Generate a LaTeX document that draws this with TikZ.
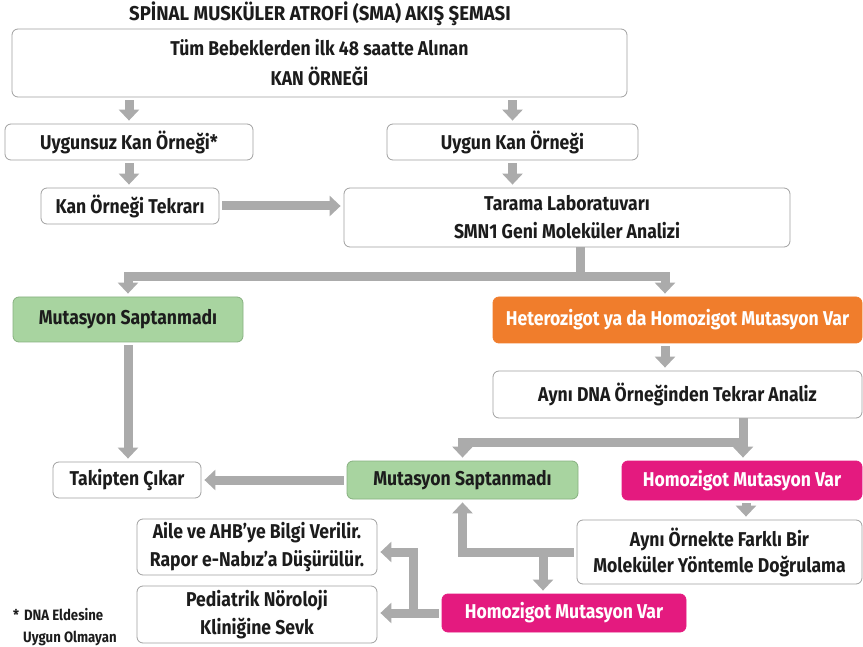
\documentclass[tikz,border=0pt]{standalone}
\usepackage{fontspec}
\setmainfont{Fira Sans}[FakeStretch=0.88]
\newfontfamily\titlefont{Fira Sans}[FakeStretch=0.93]
\usetikzlibrary{arrows.meta,calc}
\definecolor{arrgray}{HTML}{ABABAB}
\definecolor{framegray}{HTML}{A0A0A0}
\definecolor{okgreen}{HTML}{A8D4A0}
\definecolor{okgreenframe}{HTML}{86B07F}
\definecolor{warnorange}{HTML}{F07D2C}
\definecolor{hotpink}{HTML}{E41A7F}
\definecolor{inkblack}{HTML}{1C1C1C}
\tikzset{
  box/.style={draw=framegray, line width=0.8pt, rounded corners=6pt, fill=white,
    inner sep=0pt, align=center, text=inkblack,
    font=\fontsize{20}{28}\selectfont\bfseries},
  greenbox/.style={box, fill=okgreen, draw=okgreenframe},
  orangebox/.style={box, fill=warnorange, draw=warnorange, text=white},
  pinkbox/.style={box, fill=hotpink, draw=hotpink, text=white},
  arr/.style={draw=arrgray, line width=9pt,
    -{Triangle[width=20pt,length=11pt]}, shorten >=3pt, shorten <=3pt},
  branch/.style={arr, shorten <=0pt},
}
\begin{document}
\begin{tikzpicture}[x=1pt,y=-1pt]
\useasboundingbox (0,0) rectangle (863,647);

% title
\node[text=inkblack, font=\fontsize{20}{22}\titlefont\bfseries] (title) at (320,14)
  {SPİNAL MUSKÜLER ATROFİ (SMA) AKIŞ ŞEMASI};

% boxes
\node[box, font=\fontsize{20}{30}\selectfont\bfseries,
  minimum width=615pt, minimum height=68pt] (sample) at (319.5,63)
  {Tüm Bebeklerden ilk 48 saatte Alınan\\KAN ÖRNEĞİ};
\node[box, minimum width=248pt, minimum height=36pt] (bad) at (129,142) {Uygunsuz Kan Örneği*};
\node[box, minimum width=251pt, minimum height=36pt] (good) at (512.5,142) {Uygun Kan Örneği};
\node[box, minimum width=178pt, minimum height=36pt] (repeat) at (130,206) {Kan Örneği Tekrarı};
\node[box, minimum width=446pt, minimum height=59pt] (lab) at (567,217.5)
  {Tarama Laboratuvarı\\SMN1 Geni Moleküler Analizi};
\node[greenbox, minimum width=230pt, minimum height=45pt] (neg1) at (128,319.5) {Mutasyon Saptanmadı};
\node[orangebox, minimum width=369pt, minimum height=46pt] (pos) at (677.5,320)
  {Heterozigot ya da Homozigot Mutasyon Var};
\node[box, minimum width=369pt, minimum height=47pt] (reanalysis) at (677.5,394.5)
  {Aynı DNA Örneğinden Tekrar Analiz};
\node[greenbox, minimum width=231pt, minimum height=38pt] (neg2) at (462.5,480) {Mutasyon Saptanmadı};
\node[pinkbox, minimum width=240pt, minimum height=39pt] (homo1) at (742,480.5) {Homozigot Mutasyon Var};
\node[box, minimum width=148pt, minimum height=36pt] (exit) at (127,480) {Takipten Çıkar};
\node[box, font=\fontsize{20}{26}\selectfont\bfseries,
  minimum width=285pt, minimum height=64pt] (confirm) at (719.5,552)
  {Aynı Örnekte Farklı Bir\\Moleküler Yöntemle Doğrulama};
\node[pinkbox, minimum width=244pt, minimum height=38pt] (homo2) at (564,613) {Homozigot Mutasyon Var};
\node[box, minimum width=240pt, minimum height=56pt] (inform) at (257,547)
  {Aile ve AHB’ye Bilgi Verilir.\\Rapor e-Nabız’a Düşürülür.};
\node[box, minimum width=240pt, minimum height=57pt] (refer) at (257,614.5)
  {Pediatrik Nöroloji\\Kliniğine Sevk};

% footnote
\node[anchor=north west, align=left, text=inkblack, inner sep=0pt,
  font=\fontsize{15}{22}\selectfont\bfseries] (note) at (13,608)
  {*\hspace{5pt}DNA Eldesine\\\hspace{10pt}Uygun Olmayan};

% junction points
\coordinate (s1) at (580,277);
\coordinate (o1) at (665,0);
\coordinate (s2) at (743,442);
\coordinate (p1) at (746,0);
\coordinate (s3) at (543,552);
\coordinate (s4) at (413,614);

% connectors
\draw[arr] (bad.north |- sample.south) -- (bad.north);
\draw[arr] (good.north |- sample.south) -- (good.north);
\draw[arr] (bad.south) -- (repeat.north -| bad.south);
\draw[arr] (good.south) -- (lab.north -| good.south);
\draw[arr] (repeat.east) -- (lab.west |- repeat.east);
\draw[branch] (lab.south -| s1) -- (s1) -| (neg1.north);
\draw[branch] (s1) -| (pos.north -| o1);
\draw[arr] (pos.south -| o1) -- (reanalysis.north -| o1);
\draw[branch] (reanalysis.south -| s2) -- (s2) -| (neg2.north);
\draw[branch] (s2) -- (homo1.north -| s2);
\draw[arr] (neg1.south) -- (exit.north -| neg1.south);
\draw[arr] (neg2.west) -- (exit.east);
\draw[arr] (homo1.south -| p1) -- (confirm.north -| p1);
\draw[arr] (confirm.west) -| (neg2.south);
\draw[branch] (s3) -- (homo2.north -| s3);
\draw[arr] (homo2.west) -- (refer.east |- homo2.west);
\draw[branch] (s4) |- ($(inform.east)+(0,5)$);
\end{tikzpicture}
\end{document}
